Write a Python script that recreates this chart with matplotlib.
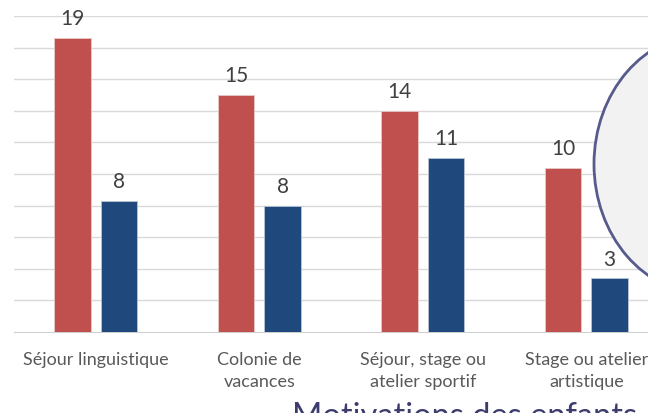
#!/usr/bin/env python3
"""Bar chart: activities by type of stay (two series)"""

import numpy as np
import matplotlib
matplotlib.use('Agg')
import matplotlib.pyplot as plt
from matplotlib.patches import Ellipse

plt.rcParams['font.family'] = ['Lato', 'DejaVu Sans']

categories = ['Séjour linguistique', 'Colonie de\nvacances',
              'Séjour, stage ou\natelier sportif', 'Stage ou atelier\nartistique']
serie_a = [18.6, 15.0, 14.0, 10.4]   # red
serie_b = [8.3, 8.0, 11.0, 3.4]      # blue

RED = '#C0504D'
BLUE = '#1F497D'

##########################################################
def main():
    W, H = 648, 414
    fig = plt.figure(figsize=(W / 100, H / 100), dpi=100)
    # axes cropped on the right, like the original screenshot
    ax = fig.add_axes([14 / W, (H - 333) / H, 654 / W, 316 / H])

    x = np.arange(len(categories))
    bw, off = 0.2245, 0.1425
    ba = ax.bar(x - off, serie_a, bw, color=RED, edgecolor='#E8C8C7', linewidth=0.6, zorder=3)
    bb = ax.bar(x + off, serie_b, bw, color=BLUE, edgecolor='#B8C4D6', linewidth=0.6, zorder=3)

    for bars in (ba, bb):
        ax.bar_label(bars, labels=['{:.0f}'.format(v) for v in bars.datavalues],
                     padding=7, fontsize=15, color='#404040')

    ax.set_xlim(-0.5, len(categories) - 0.5)
    ax.set_ylim(0, 20)
    ax.set_yticks(np.arange(2, 21, 2))
    ax.yaxis.grid(True, color='#D9D9D9', linewidth=1)
    ax.tick_params(axis='y', left=False, labelleft=False)
    ax.set_xticks(x)
    ax.set_xticklabels(categories, fontsize=13, color='#595959', linespacing=1.45)
    ax.tick_params(axis='x', bottom=False, pad=10)
    for s in ('left', 'right', 'top'):
        ax.spines[s].set_visible(False)
    ax.spines['bottom'].set_color('#D0D0D0')
    ax.set_axisbelow(True)

    # overlapping shape from the slide
    ell = Ellipse((706 / W, (H - 165) / H), 224 / W, 260 / H, transform=fig.transFigure,
                  facecolor='#F2F2F2', edgecolor='#565A8C', linewidth=2, zorder=10)
    fig.add_artist(ell)

    fig.text(292 / W, (H - 426) / H, 'Motivations des enfants et des parents',
             fontsize=23.5, color='#3C3C6E', va='baseline', ha='left')

    fig.savefig('out.png', dpi=100)

##########################################################
if __name__ == "__main__":
    main()
